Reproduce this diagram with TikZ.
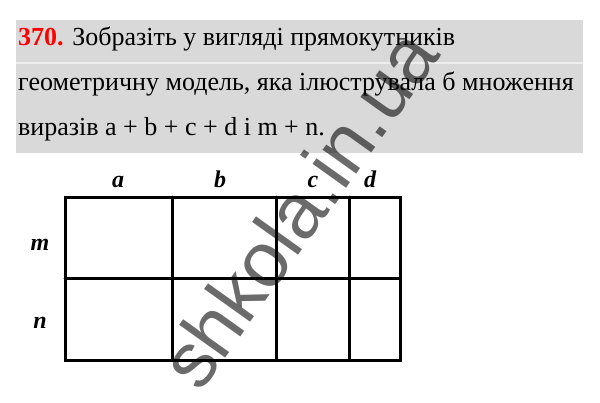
\documentclass[tikz,border=0pt]{standalone}
\usepackage{fontspec}
\setmainfont{Liberation Serif}
\newfontfamily\marksans{Liberation Sans}
\definecolor{boxgray}{HTML}{D9D9D9}
\definecolor{numred}{HTML}{FF0000}

\begin{document}
\begin{tikzpicture}[x=1pt,y=-1pt,
  taskline/.style={anchor=base west, inner sep=0pt, font=\fontsize{26}{26}\selectfont},
  varlabel/.style={anchor=base, inner sep=0pt, font=\fontsize{24}{24}\selectfont\bfseries\itshape},
  gridline/.style={line width=3pt, line cap=round}]

\useasboundingbox (0,0) rectangle (600,402);
\fill[white] (0,0) rectangle (600,402);

% task text
\fill[boxgray] (16,20) rectangle (583,153);
\draw[white!55!boxgray, line width=1.2pt] (16,63) -- (583,63);
\node[taskline] (line1) at (18,45) {\textcolor{numred}{\textbf{370.}} Зобразіть у вигляді прямокутників};
\node[taskline] (line2) at (18,90) {геометричну модель, яка ілюструвала б множення};
\node[taskline] (line3) at (18,135) {виразів a + b + c + d і m + n.};

% rectangles
\coordinate (NW) at (65,197);
\coordinate (SE) at (400,360);
\draw[gridline] (NW) rectangle (SE);
\draw[gridline] (65,278) -- (400,278);
\foreach \x in {172,276,349}
  \draw[gridline] (\x,197) -- (\x,360);

% labels
\node[varlabel] (la) at (118,187) {a};
\node[varlabel] (lb) at (220,187) {b};
\node[varlabel] (lc) at (313,187) {c};
\node[varlabel] (ld) at (370,187) {d};
\node[varlabel] (lm) at (40,250) {m};
\node[varlabel] (ln) at (40,328) {n};

% watermark
\node[anchor=base west, inner sep=0pt, rotate=54.5, text=black, text opacity=0.58,
  font=\marksans\fontsize{78}{78}\selectfont] (mark) at (200,394) {shkola.in.ua};

\end{tikzpicture}
\end{document}
